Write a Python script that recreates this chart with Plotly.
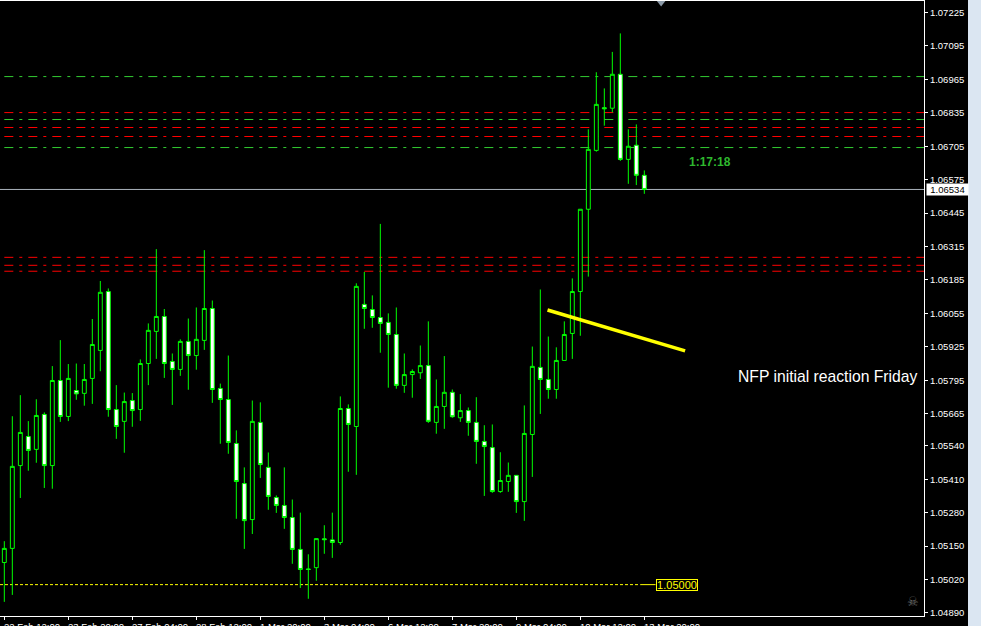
import plotly.graph_objects as go

opens = [1.05086,1.05141,1.05463,1.05576,1.05526,1.05662,1.05463,1.05794,1.05654,1.05755,1.05744,1.05802,1.05911,1.06140,1.05681,1.05635,1.05716,1.05681,1.05860,1.05985,1.06043,1.05868,1.05837,1.05946,1.05891,1.05950,1.06074,
         1.05763,1.05720,1.05549,1.05393,1.05253,1.05631,1.05456,1.05339,1.05308,1.05261,1.05137,1.05061,1.05066,1.05178,1.05174,1.05164,1.05685,1.05615,1.06090,1.06070,1.06039,1.06020,1.05973,1.05775,1.05817,1.05824,1.05852,
         1.05631,1.05693,1.05748,1.05649,1.05677,1.05631,1.05557,1.05533,1.05362,1.05401,1.05425,1.05323,1.05584,1.05845,1.05798,1.05759,1.05872,1.05977,1.06140,1.06460,1.06689,1.06855,1.06853,1.06985,1.06654,1.06709,1.06592]
highs = [1.05169,1.05655,1.05737,1.05636,1.05721,1.05670,1.05850,1.05951,1.05858,1.05860,1.05858,1.06033,1.06181,1.06152,1.05776,1.05747,1.05745,1.05876,1.06016,1.06305,1.06072,1.05899,1.05954,1.06035,1.06078,1.06301,1.06105,
         1.05782,1.05891,1.05600,1.05456,1.05716,1.05709,1.05514,1.05347,1.05456,1.05331,1.05280,1.05118,1.05179,1.05231,1.05280,1.05732,1.05701,1.06172,1.06216,1.06125,1.06403,1.06055,1.06078,1.05899,1.05837,1.05930,1.06024,
         1.05798,1.05889,1.05759,1.05741,1.05689,1.05729,1.05620,1.05623,1.05515,1.05475,1.05425,1.05697,1.05926,1.06148,1.05965,1.05923,1.06024,1.06191,1.06460,1.06771,1.06993,1.06930,1.07072,1.07144,1.06771,1.06790,1.06611]
lows = [1.04933,1.04960,1.05337,1.05443,1.05474,1.05376,1.05373,1.05633,1.05636,1.05719,1.05696,1.05703,1.05830,1.05653,1.05567,1.05513,1.05614,1.05637,1.05776,1.05878,1.05804,1.05699,1.05812,1.05758,1.05836,1.05913,1.05707,
        1.05548,1.05509,1.05256,1.05139,1.05197,1.05415,1.05291,1.05279,1.05217,1.05081,1.04987,1.04945,1.05015,1.05120,1.05104,1.05155,1.05439,1.05427,1.05995,1.05999,1.05902,1.05766,1.05762,1.05746,1.05727,1.05800,1.05629,
        1.05587,1.05606,1.05649,1.05633,1.05579,1.05470,1.05345,1.05357,1.05357,1.05361,1.05279,1.05248,1.05419,1.05664,1.05723,1.05723,1.05872,1.05878,1.05968,1.06198,1.06684,1.06785,1.06837,1.06648,1.06559,1.06554,1.06520]
closes = [1.05141,1.05460,1.05592,1.05522,1.05658,1.05463,1.05794,1.05654,1.05802,1.05742,1.05798,1.05934,1.06137,1.05681,1.05615,1.05712,1.05677,1.05860,1.05989,1.06043,1.05860,1.05837,1.05946,1.05891,1.05954,1.06074,1.05759,
          1.05720,1.05553,1.05401,1.05249,1.05635,1.05467,1.05343,1.05308,1.05261,1.05137,1.05059,1.05059,1.05179,1.05175,1.05164,1.05685,1.05623,1.06160,1.06074,1.06039,1.06016,1.05973,1.05775,1.05817,1.05829,1.05852,1.05635,
          1.05693,1.05748,1.05653,1.05677,1.05631,1.05557,1.05537,1.05362,1.05405,1.05425,1.05323,1.05588,1.05849,1.05798,1.05759,1.05872,1.05973,1.06140,1.06460,1.06693,1.06868,1.06851,1.06985,1.06654,1.06705,1.06592,1.06537]
bars = list(range(len(opens)))

price_ticks = [1.07225,1.07095,1.06965,1.06835,1.06705,1.06575,1.06445,1.06315,1.06185,1.06055,1.05925,1.05795,1.05665,1.05540,1.05410,1.05280,1.05150,1.05020,1.04890]
price_labels = ["%.5f" % p for p in price_ticks]
time_tick_bars = [0,8,16,24,32,40,48,56,64,72,80]
time_labels = ["22 Feb 12:00","23 Feb 20:00","27 Feb 04:00","28 Feb 12:00","1 Mar 20:00","3 Mar 04:00","6 Mar 12:00","7 Mar 20:00","9 Mar 04:00","10 Mar 12:00","13 Mar 20:00"]

green_levels = [1.06976,1.06809,1.06700]
red_levels = [1.06836,1.06778,1.06743,1.06273,1.06242,1.06219]
bid_price = 1.06537
bid_label = "1.06534"
alert_price = 1.05000
alert_label = "1.05000"
trend_bars = [67.9,85.1]
trend_prices = [1.06068,1.05909]

X_MIN, X_MAX = -0.54, 114.96
Y_MIN, Y_MAX = 1.04878, 1.07270
FONT = "Liberation Sans"
LEVEL_DASH = "9px,6px,3px,6px"

fig = go.Figure()
fig.add_trace(go.Candlestick(
    x=bars, open=opens, high=highs, low=lows, close=closes,
    increasing=dict(line=dict(color="#00ff00", width=1), fillcolor="#000000"),
    decreasing=dict(line=dict(color="#00ff00", width=1), fillcolor="#ffffff"),
    whiskerwidth=0, showlegend=False, hoverinfo="skip",
))
fig.add_trace(go.Scatter(x=trend_bars, y=trend_prices, mode="lines",
                         line=dict(color="#ffff00", width=3.5), showlegend=False, hoverinfo="skip"))
fig.add_trace(go.Scatter(x=[82.1], y=[1.07266], mode="markers", cliponaxis=False,
                         marker=dict(symbol="triangle-down", size=9, color="#8c9aa8"),
                         showlegend=False, hoverinfo="skip"))

shapes = []
for lv in green_levels:
    shapes.append(dict(type="line", xref="x", yref="y", x0=0, x1=X_MAX, y0=lv, y1=lv, layer="below",
                       line=dict(color="#32cd32", width=1, dash=LEVEL_DASH)))
for lv in red_levels:
    shapes.append(dict(type="line", xref="x", yref="y", x0=0, x1=X_MAX, y0=lv, y1=lv, layer="below",
                       line=dict(color="#ff0000", width=1, dash=LEVEL_DASH)))
shapes.append(dict(type="line", xref="x", yref="y", x0=X_MIN, x1=X_MAX, y0=bid_price, y1=bid_price, layer="below",
                   line=dict(color="#aab2bc", width=1)))
shapes.append(dict(type="line", xref="x", yref="y", x0=X_MIN, x1=79.5, y0=alert_price, y1=alert_price, layer="below",
                   line=dict(color="#ffff00", width=1, dash="3px,2px")))
shapes.append(dict(type="line", xref="x", yref="y", x0=79.5, x1=81.4, y0=alert_price, y1=alert_price, layer="below",
                   line=dict(color="#ffff00", width=1)))
shapes.append(dict(type="rect", xref="paper", yref="paper", x0=968/924, x1=985/924, y0=-0.1, y1=1.01,
                   fillcolor="#dbe6f2", line=dict(width=0), layer="above"))

annotations = []
for b, t in zip(time_tick_bars, time_labels):
    annotations.append(dict(x=b, xref="x", y=0, yref="paper", yanchor="top", xanchor="left", yshift=-3, xshift=-2,
                            text=t, showarrow=False, font=dict(family=FONT, size=9.5, color="#ffffff")))
annotations.append(dict(x=1, xref="paper", y=bid_price, yref="y", xanchor="left", xshift=2, text=bid_label,
                        showarrow=False, bgcolor="#ffffff", width=39, height=9, borderpad=1,
                        font=dict(family=FONT, size=9.5, color="#000000")))
annotations.append(dict(x=81.4, xref="x", y=alert_price, yref="y", xanchor="left", text=alert_label,
                        showarrow=False, bgcolor="#000000", bordercolor="#ffff00", borderwidth=1, width=40, height=10, borderpad=0,
                        font=dict(family=FONT, size=11, color="#ffff00")))
annotations.append(dict(x=85.35, xref="x", y=1.06644, yref="y", xanchor="left", text="<b>1:17:18</b>",
                        showarrow=False, font=dict(family=FONT, size=12, color="#2eb82e")))
annotations.append(dict(x=91.5, xref="x", y=1.05811, yref="y", xanchor="left", text="NFP initial reaction Friday",
                        showarrow=False, font=dict(family=FONT, size=15.7, color="#ffffff")))
annotations.append(dict(x=113.6, xref="x", y=1.04936, yref="y", text="\u2620", showarrow=False,
                        font=dict(family="DejaVu Sans", size=13, color="#6a6a6a")))

fig.update_layout(
    width=981, height=626, autosize=False,
    margin=dict(l=0, r=57, t=1, b=10, pad=0),
    paper_bgcolor="#000000", plot_bgcolor="#000000",
    boxgap=0.3, showlegend=False, hovermode=False,
    shapes=shapes, annotations=annotations,
    xaxis=dict(range=[X_MIN, X_MAX], rangeslider=dict(visible=False), showgrid=False, zeroline=False,
               showline=True, linecolor="#ffffff", linewidth=1, mirror=True,
               tickmode="array", tickvals=time_tick_bars, showticklabels=False,
               ticks="outside", ticklen=3, tickcolor="#ffffff", tickwidth=1),
    yaxis=dict(range=[Y_MIN, Y_MAX], side="right", showgrid=False, zeroline=False,
               showline=True, linecolor="#ffffff", linewidth=1, mirror=True,
               tickmode="array", tickvals=price_ticks, ticktext=price_labels,
               ticks="outside", ticklen=3, tickcolor="#ffffff", tickwidth=1,
               tickfont=dict(family=FONT, size=9.5, color="#ffffff")),
)

fig.write_html("out.html", config={"displayModeBar": False},
               post_script="document.body.style.margin='0';document.body.style.overflow='hidden';")
